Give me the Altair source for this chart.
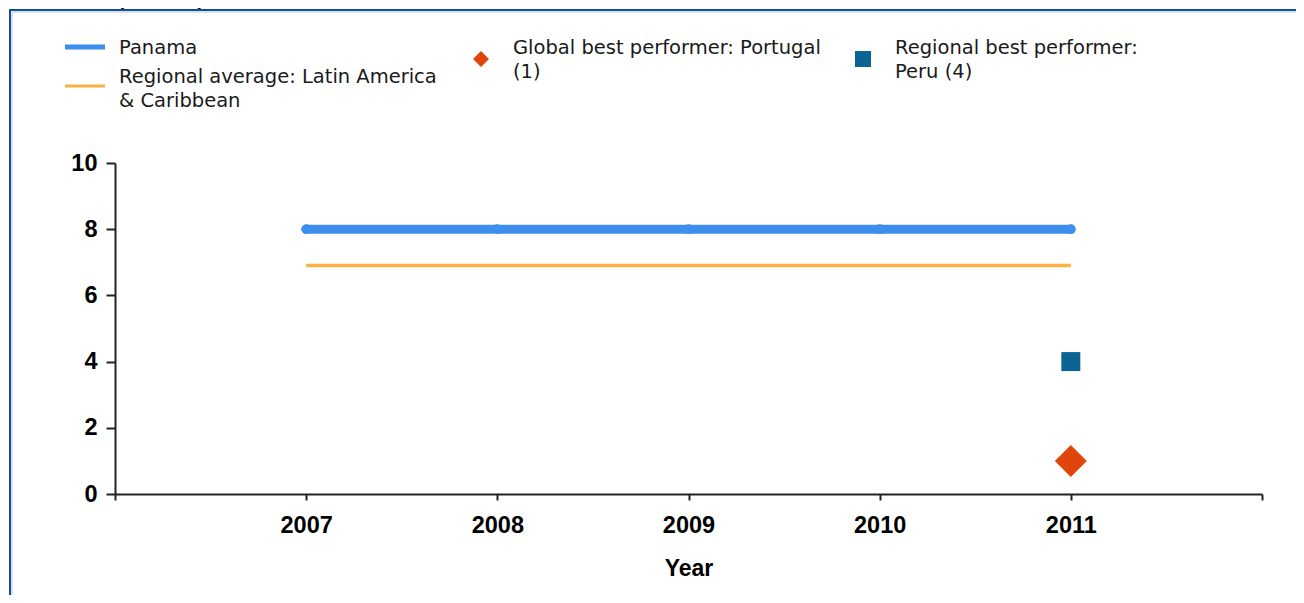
import altair as alt
import pandas as pd

# ---- data ----
years = [2007, 2008, 2009, 2010, 2011]
panama = [8, 8, 8, 8, 8]
regional_average = [6.9, 6.9, 6.9, 6.9, 6.9]
global_best_year = [2011]
global_best_value = [1]
regional_best_year = [2011]
regional_best_value = [4]

x_ticks = [2006, 2007, 2008, 2009, 2010, 2011, 2012]
y_ticks = [0, 2, 4, 6, 8, 10]

chart_title = "Procedures (number)"
legend_panama = "Panama"
legend_regional = "Regional average: Latin America\n& Caribbean"
legend_global = "Global best performer: Portugal\n(1)"
legend_regbest = "Regional best performer:\nPeru (4)"

BLUE = "#3f8eed"
ORANGE = "#fdb144"
RED = "#e0460c"
TEAL = "#0c6494"
AXIS = "#222222"
TXT = "DejaVu Sans"
AXFONT = "Liberation Sans"

df_pan = pd.DataFrame({"Year": years, "value": panama})
df_reg = pd.DataFrame({"Year": years, "value": regional_average})
df_glob = pd.DataFrame({"Year": global_best_year, "value": global_best_value})
df_rb = pd.DataFrame({"Year": regional_best_year, "value": regional_best_value})
one = pd.DataFrame({"a": [0]})

x_enc = alt.X(
    "Year:Q",
    scale=alt.Scale(domain=[2006, 2012], nice=False, zero=False),
    axis=alt.Axis(
        values=x_ticks,
        labelExpr="(datum.value == 2006 || datum.value == 2012) ? '' : datum.label",
        format="d",
        title="Year",
        grid=False,
        tickSize=6,
        labelPadding=13,
        titlePadding=21,
    ),
)
y_enc = alt.Y(
    "value:Q",
    scale=alt.Scale(domain=[0, 10], nice=False),
    axis=alt.Axis(values=y_ticks, title=None, grid=False, tickSize=9, labelPadding=9),
)

reg_line = alt.Chart(df_reg).mark_line(color=ORANGE, strokeWidth=3.5).encode(x=x_enc, y=y_enc)
pan_line = alt.Chart(df_pan).mark_line(color=BLUE, strokeWidth=9, strokeCap="round").encode(x=x_enc, y=y_enc)
pan_pts = alt.Chart(df_pan).mark_circle(color=BLUE, size=95, opacity=1).encode(x=x_enc, y=y_enc)
glob_pt = alt.Chart(df_glob).mark_point(shape="diamond", filled=True, size=1024, color=RED, opacity=1).encode(x=x_enc, y=y_enc)
rb_pt = alt.Chart(df_rb).mark_point(shape="square", filled=True, size=361, color=TEAL, opacity=1).encode(x=x_enc, y=y_enc)

# frame
frame_outer = alt.Chart(one).mark_rect(fillOpacity=0, stroke="#14509a", strokeWidth=2).encode(
    x=alt.value(-105), x2=alt.value(1300), y=alt.value(-153), y2=alt.value(600)
)
frame_inner = alt.Chart(one).mark_rect(fillOpacity=0, stroke="#a9c3e3", strokeWidth=1).encode(
    x=alt.value(-103), x2=alt.value(1300), y=alt.value(-151), y2=alt.value(600)
)
title_txt = alt.Chart(one).mark_text(
    text=chart_title, font="Liberation Sans", fontSize=20, fontWeight="bold", align="left", baseline="alphabetic", color="black"
).encode(x=alt.value(-113), y=alt.value(-158))

# legend
leg_blue = alt.Chart(one).mark_rule(color=BLUE, strokeWidth=5).encode(
    x=alt.value(-50), x2=alt.value(-10), y=alt.value(-116)
)
leg_orange = alt.Chart(one).mark_rule(color=ORANGE, strokeWidth=3).encode(
    x=alt.value(-50), x2=alt.value(-10), y=alt.value(-77)
)
leg_diamond = alt.Chart(one).mark_point(shape="diamond", filled=True, size=256, color=RED, opacity=1).encode(
    x=alt.value(366), y=alt.value(-104)
)
leg_square = alt.Chart(one).mark_point(shape="square", filled=True, size=256, color=TEAL, opacity=1).encode(
    x=alt.value(748), y=alt.value(-104)
)

def legend_text(label, xpx, ypx):
    return alt.Chart(one).mark_text(
        text=label, lineBreak="\n", lineHeight=24, font=TXT, fontSize=19.5,
        align="left", baseline="alphabetic", color="#1a1a1a"
    ).encode(x=alt.value(xpx), y=alt.value(ypx))

t1 = legend_text(legend_panama, 4, -109)
t2 = legend_text(legend_regional, 4, -80)
t3 = legend_text(legend_global, 398, -109)
t4 = legend_text(legend_regbest, 780, -109)

chart = alt.layer(
    frame_outer, frame_inner, title_txt,
    reg_line, pan_line, pan_pts, rb_pt, glob_pt,
    leg_blue, leg_orange, leg_diamond, leg_square, t1, t2, t3, t4,
).properties(
    width=1147, height=331,
    autosize=alt.AutoSizeParams(type="none"),
    padding={"left": 107, "top": 155, "right": 34, "bottom": 101},
    background="white",
).configure_view(stroke=None).configure_axis(
    domainColor=AXIS, domainWidth=2, tickColor=AXIS, tickWidth=2,
    labelFont=AXFONT, labelFontSize=23.5, labelFontWeight="bold", labelColor="black",
    titleFont=AXFONT, titleFontSize=23, titleFontWeight="bold", titleColor="black",
)

chart.save("out.html", embed_options={"renderer": "svg", "actions": False})
